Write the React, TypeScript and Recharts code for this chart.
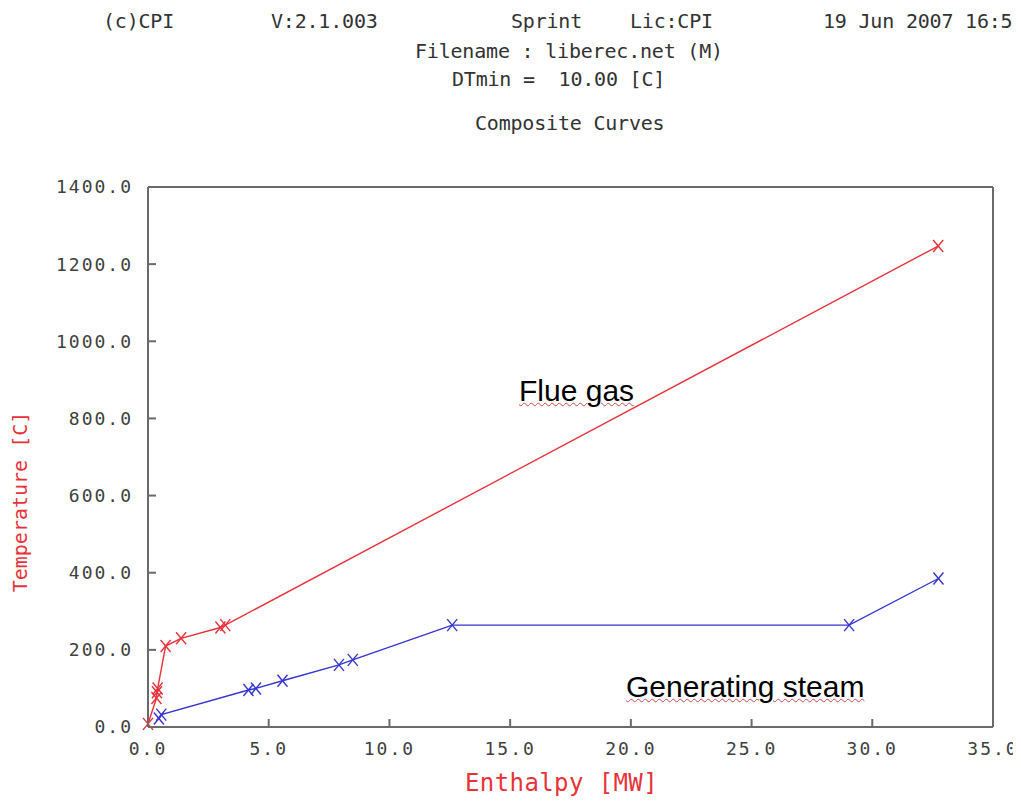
import { CartesianGrid, Line, LineChart, XAxis, YAxis } from "recharts";

// flue gas composite (hot), enthalpy MW vs temperature C
const flueGasH = [0.0, 0.35, 0.37, 0.4, 0.73, 1.37, 3.0, 3.2, 32.73];
const flueGasT = [8, 75, 90, 100, 210, 230, 258, 264, 1247];

// generating steam composite (cold)
const steamH = [0.45, 0.55, 4.16, 4.47, 5.57, 7.91, 8.48, 12.6, 29.04, 32.74];
const steamT = [22, 32, 96, 100, 120, 161, 174, 264, 264, 385];

const xTicks = [0, 5, 10, 15, 20, 25, 30, 35];
const yTicks = [0, 200, 400, 600, 800, 1000, 1200, 1400];

const hot = flueGasH.map((x, i) => ({ x, t: flueGasT[i] }));
const cold = steamH.map((x, i) => ({ x, t: steamT[i] }));

const RED = "#e8323a";
const BLUE = "#3535d0";
const AXIS = "#6a6a6a";
const MONO = "'DejaVu Sans Mono', monospace";
const TICK_LEN = 8;

const cross = (color: string) => (props: any) => {
  const { cx, cy, index } = props;
  if (cx == null || cy == null) return <g key={index} />;
  return (
    <g key={index} stroke={color} strokeWidth={1.4}>
      <line x1={cx - 5} y1={cy - 6} x2={cx + 5} y2={cy + 6} />
      <line x1={cx - 5} y1={cy + 6} x2={cx + 5} y2={cy - 6} />
    </g>
  );
};

const labelStyle = {
  fontFamily: MONO,
  fontSize: 18,
  fill: "#404040",
  letterSpacing: 2,
};

// inward tick marks drawn by hand, label optional
const bottomTick = (gap: number) => (props: any) => {
  const { x, y, payload } = props;
  const axisY = y - gap;
  return (
    <g>
      <line x1={x} y1={axisY} x2={x} y2={axisY - TICK_LEN} stroke={AXIS} strokeWidth={2} />
      <text x={x} y={y} dy="0.71em" textAnchor="middle" style={labelStyle}>
        {Number(payload.value).toFixed(1)}
      </text>
    </g>
  );
};

const topTick = (props: any) => {
  const { x, y } = props;
  return <line x1={x} y1={y} x2={x} y2={y + TICK_LEN} stroke={AXIS} strokeWidth={2} />;
};

const leftTick = (gap: number) => (props: any) => {
  const { x, y, payload } = props;
  const axisX = x + gap;
  return (
    <g>
      <line x1={axisX} y1={y} x2={axisX + TICK_LEN} y2={y} stroke={AXIS} strokeWidth={2} />
      <text x={x + 2} y={y} dy="0.355em" textAnchor="end" style={labelStyle}>
        {Number(payload.value).toFixed(1)}
      </text>
    </g>
  );
};

const rightTick = (props: any) => {
  const { x, y } = props;
  return <line x1={x} y1={y} x2={x - TICK_LEN} y2={y} stroke={AXIS} strokeWidth={2} />;
};

const head = (left: number, top: number, text: string) => (
  <div
    style={{
      position: "absolute",
      left,
      top,
      fontFamily: MONO,
      fontSize: 20,
      lineHeight: "20px",
      letterSpacing: -0.2,
      color: "#333",
      whiteSpace: "pre",
    }}
  >
    {text}
  </div>
);

export default function App() {
  return (
    <div
      style={{
        position: "relative",
        width: 1021,
        height: 805,
        margin: -8,
        overflow: "hidden",
        background: "#fff",
      }}
    >
      {head(103, 11, "(c)CPI")}
      {head(271, 11, "V:2.1.003")}
      {head(511, 11, "Sprint")}
      {head(630, 11, "Lic:CPI")}
      {head(823, 11, "19 Jun 2007 16:53")}
      {head(415, 41, "Filename : liberec.net (M)")}
      {head(452, 69, "DTmin =  10.00 [C]")}
      {head(475, 113, "Composite Curves")}

      <LineChart
        width={1021}
        height={805}
        margin={{ top: 186, right: 27, bottom: 0, left: 0 }}
        style={{ position: "absolute", left: 0, top: 0 }}
      >
        <CartesianGrid stroke="#ececec" strokeWidth={1} />
        <XAxis
          xAxisId="b"
          type="number"
          dataKey="x"
          domain={[0, 35]}
          ticks={xTicks}
          height={78}
          tickSize={0}
          tickMargin={15}
          tickLine={false}
          tick={bottomTick(15)}
          stroke={AXIS}
          strokeWidth={2}
        />
        <XAxis
          xAxisId="t"
          orientation="top"
          type="number"
          dataKey="x"
          domain={[0, 35]}
          ticks={xTicks}
          height={1}
          tickSize={0}
          tickMargin={0}
          tickLine={false}
          tick={topTick}
          stroke={AXIS}
          strokeWidth={2}
        />
        <YAxis
          yAxisId="l"
          type="number"
          dataKey="t"
          domain={[0, 1400]}
          ticks={yTicks}
          width={148}
          tickSize={0}
          tickMargin={17}
          tickLine={false}
          tick={leftTick(17)}
          stroke={AXIS}
          strokeWidth={2}
        />
        <YAxis
          yAxisId="r"
          orientation="right"
          type="number"
          dataKey="t"
          domain={[0, 1400]}
          ticks={yTicks}
          width={1}
          tickSize={0}
          tickMargin={0}
          tickLine={false}
          tick={rightTick}
          stroke={AXIS}
          strokeWidth={2}
        />
        <Line
          xAxisId="b"
          yAxisId="l"
          data={hot}
          dataKey="t"
          type="linear"
          stroke={RED}
          strokeWidth={1.4}
          dot={cross(RED)}
          activeDot={false}
          isAnimationActive={false}
        />
        <Line
          xAxisId="b"
          yAxisId="l"
          data={cold}
          dataKey="t"
          type="linear"
          stroke={BLUE}
          strokeWidth={1.4}
          dot={cross(BLUE)}
          activeDot={false}
          isAnimationActive={false}
        />
      </LineChart>

      <div style={{ position: "absolute", left: 8, top: 502, width: 0, height: 0 }}>
        <div
          style={{
            position: "absolute",
            transform: "translate(-50%, -50%) rotate(-90deg)",
            left: 12,
            top: 0,
            fontFamily: MONO,
            fontSize: 20,
            color: RED,
            whiteSpace: "pre",
          }}
        >
          Temperature [C]
        </div>
      </div>
      <div
        style={{
          position: "absolute",
          left: 465,
          top: 768,
          fontFamily: MONO,
          fontSize: 24,
          lineHeight: "30px",
          letterSpacing: 0.4,
          color: RED,
          whiteSpace: "pre",
        }}
      >
        Enthalpy [MW]
      </div>

      <div
        style={{
          position: "absolute",
          left: 519,
          top: 374,
          fontFamily: "'Liberation Sans', Arial, sans-serif",
          fontSize: 30,
          lineHeight: "34px",
          color: "#000",
          textDecoration: "underline wavy #d04848",
          textDecorationThickness: 1,
        }}
      >
        Flue gas
      </div>
      <div
        style={{
          position: "absolute",
          left: 626,
          top: 670,
          fontFamily: "'Liberation Sans', Arial, sans-serif",
          fontSize: 30,
          lineHeight: "34px",
          color: "#000",
          whiteSpace: "pre",
          textDecoration: "underline wavy #d04848",
          textDecorationThickness: 1,
        }}
      >
        Generating steam
      </div>
    </div>
  );
}
